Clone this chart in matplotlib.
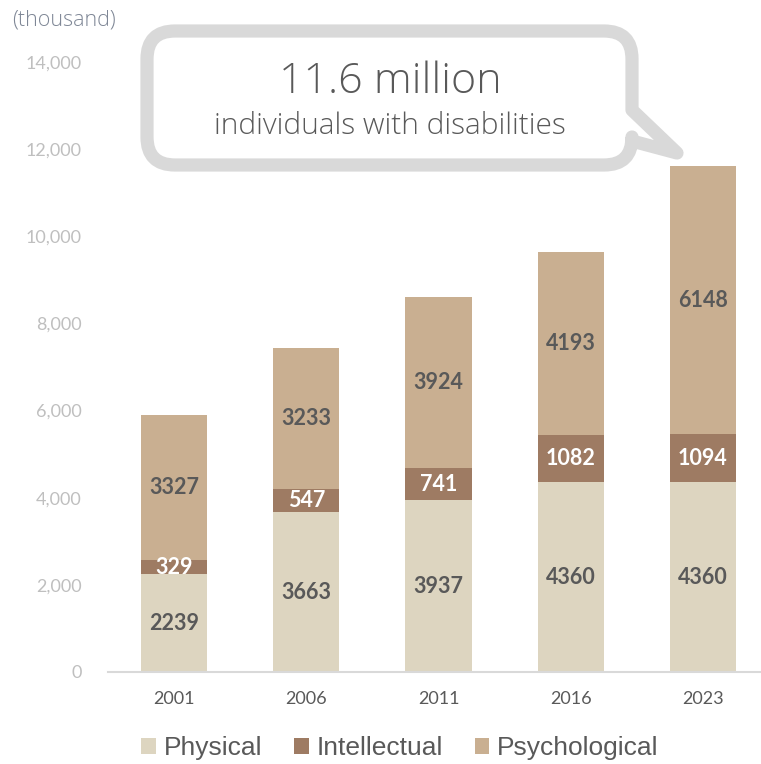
import matplotlib
matplotlib.use('Agg')
import matplotlib.pyplot as plt
import numpy as np
from matplotlib.path import Path
from matplotlib.patches import PathPatch, Patch
from matplotlib.transforms import Affine2D

years = ['2001', '2006', '2011', '2016', '2023']
physical = [2239, 3663, 3937, 4360, 4360]
intellectual = [329, 547, 741, 1082, 1094]
psychological = [3327, 3233, 3924, 4193, 6148]

series_names = ['Physical', 'Intellectual', 'Psychological']
colors = ['#DDD5C0', '#9E7B63', '#C9AF91']
label_colors = ['#595959', 'white', '#595959']

W, H = 761, 764
fig = plt.figure(figsize=(W / 100, H / 100), dpi=100)
ax = fig.add_axes([108 / W, 1 - 672 / H, (769 - 108) / W, (672 - 62) / H])

x = np.arange(len(years))
bottom = np.zeros(len(years))
for vals, name, col, lcol in zip([physical, intellectual, psychological], series_names, colors, label_colors):
    vals = np.array(vals)
    ax.bar(x, vals, width=0.5, bottom=bottom, color=col, label=name)
    for xi, b, v in zip(x, bottom, vals):
        ax.text(xi, b + v / 2, str(v), ha='center', va='center', color=lcol,
                fontsize=15.5, fontweight='bold', family='Lato')
    bottom += vals

ax.set_xlim(-0.5, 4.5)
ax.set_ylim(0, 14000)
ax.set_xticks(x)
ax.set_xticklabels(years)
ax.set_yticks(range(0, 14001, 2000))
ax.set_yticklabels([f'{v:,}' for v in range(0, 14001, 2000)])
for lbl in ax.get_yticklabels():
    lbl.set_family('Lato')
    lbl.set_fontsize(13)
    lbl.set_color('#BFBFBF')
for lbl in ax.get_xticklabels():
    lbl.set_family('Lato')
    lbl.set_fontsize(13)
    lbl.set_color('#595959')
ax.tick_params(axis='y', length=0, pad=19)
ax.tick_params(axis='x', length=0, pad=14)
for s in ['top', 'right', 'left']:
    ax.spines[s].set_visible(False)
ax.spines['bottom'].set_color('#D9D9D9')
ax.spines['bottom'].set_linewidth(1.5)

fig.text(12 / W, 1 - 20 / H, '(thousand)', ha='left', va='center', fontsize=15.5,
         family='Open Sans', fontweight='light', color='#7F8796')

# speech bubble, drawn in pixel coords (y down)
L, R, T, B, r = 147, 632, 31, 165, 28
verts = [
    (L + r, T), (R - r, T), (R, T), (R, T + r), (R, 110), (677, 153), (632, 141),
    (R, B - r), (R, B), (R - r, B), (L + r, B), (L, B), (L, B - r),
    (L, T + r), (L, T), (L + r, T), (L + r, T),
]
codes = [
    Path.MOVETO, Path.LINETO, Path.CURVE3, Path.CURVE3, Path.LINETO, Path.LINETO, Path.LINETO,
    Path.LINETO, Path.CURVE3, Path.CURVE3, Path.LINETO, Path.CURVE3, Path.CURVE3,
    Path.LINETO, Path.CURVE3, Path.CURVE3, Path.CLOSEPOLY,
]
px_to_fig = Affine2D().scale(1 / W, -1 / H).translate(0, 1) + fig.transFigure
bubble = PathPatch(Path(verts, codes), facecolor='white', edgecolor='#D9D9D9',
                   linewidth=9.5, joinstyle='round', transform=px_to_fig)
fig.patches.append(bubble)

fig.text(390 / W, 1 - 82 / H, '11.6 million', ha='center', va='center', fontsize=31,
         family='Open Sans', fontweight='light', color='#595959')
fig.text(390 / W, 1 - 126 / H, 'individuals with disabilities', ha='center', va='center',
         fontsize=21.5, family='Open Sans', fontweight='light', color='#595959')

handles = [Patch(facecolor=c, edgecolor='none') for c in colors]
fig.legend(handles, series_names, loc='center', bbox_to_anchor=(400 / W, 1 - 748 / H),
           ncol=3, frameon=False, prop={'family': 'Liberation Sans', 'size': 19},
           labelcolor='#595959', handlelength=0.55, handleheight=0.55,
           handletextpad=0.3, columnspacing=1.2)

fig.savefig('out.png', dpi=100)
